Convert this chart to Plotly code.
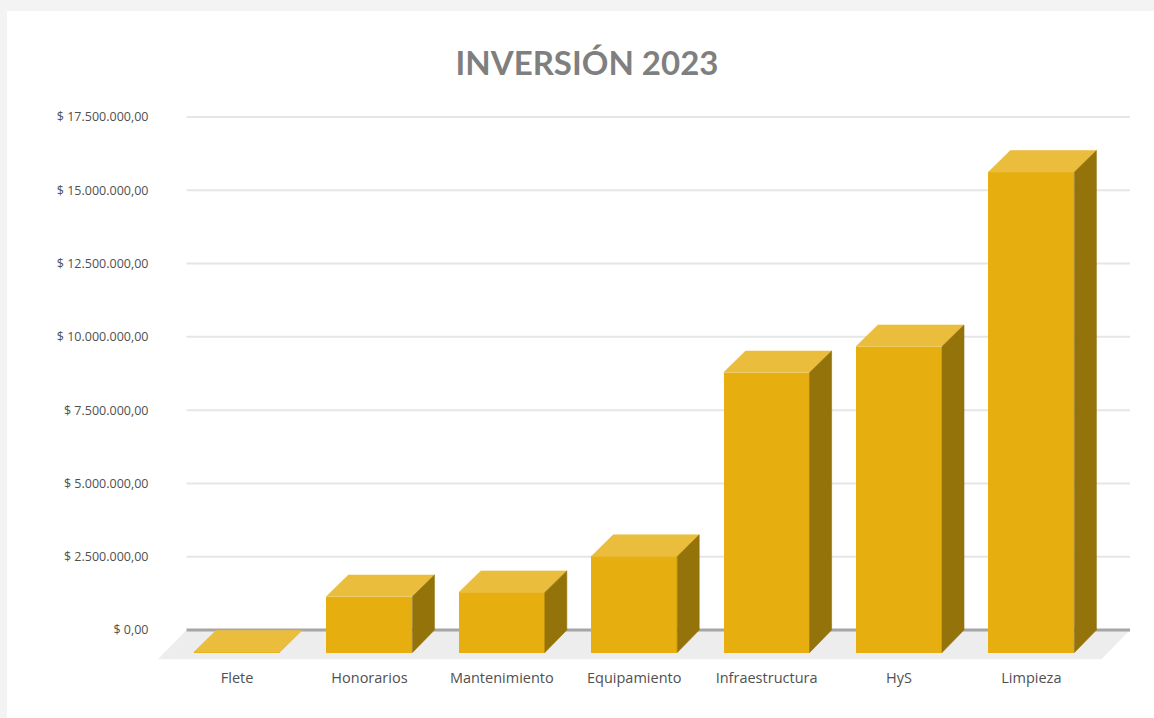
import plotly.graph_objects as go

categories = ["Flete", "Honorarios", "Mantenimiento", "Equipamiento", "Infraestructura", "HyS", "Limpieza"]
values = [20000, 1910000, 2050000, 3280000, 9550000, 10440000, 16390000]
tick_values = [0, 2500000, 5000000, 7500000, 10000000, 12500000, 15000000, 17500000]
tick_labels = ["$ 0,00", "$ 2.500.000,00", "$ 5.000.000,00", "$ 7.500.000,00",
               "$ 10.000.000,00", "$ 12.500.000,00", "$ 15.000.000,00", "$ 17.500.000,00"]
title_text = "INVERSIÓN 2023"

# pseudo-3D geometry, in axis units
BAR_W = 0.65
DEPTH_X = 0.166
DEPTH_Y = 770000
TOP_RISE = 735000
FLOOR_Y = -1000000
X_RANGE = [-0.597, 6.76]
Y_RANGE = [-1023500, 18080000]
FLOOR_SLANT = (FLOOR_Y / -DEPTH_Y) * DEPTH_X

FRONT = "#E6AF0F"
TOP = "#EBBD3C"
SIDE = "#94730A"
INK = "#505050"
FONT = "Open Sans"
TITLE_FONT = "Lato"

xs = list(range(len(categories)))

top_x, top_y, side_x, side_y = [], [], [], []
for x, v in zip(xs, values):
    l, r = x - BAR_W / 2, x + BAR_W / 2
    front_top = v - DEPTH_Y
    back_top = front_top + TOP_RISE
    top_x += [l, r, r + DEPTH_X, l + DEPTH_X, l, None]
    top_y += [front_top, front_top, back_top, back_top, front_top, None]
    if v > 100000:
        side_x += [r, r + DEPTH_X, r + DEPTH_X, r, r, None]
        side_y += [front_top, back_top, 0, -DEPTH_Y, front_top, None]

fig = go.Figure()
fig.add_trace(go.Bar(x=xs, y=values, base=-DEPTH_Y, width=BAR_W,
                     marker=dict(color=FRONT, line=dict(width=0)), name="Inversión"))
fig.add_trace(go.Scatter(x=top_x, y=top_y, mode="lines", fill="toself", fillcolor=TOP,
                         line=dict(width=0.6, color=TOP), hoverinfo="skip"))
fig.add_trace(go.Scatter(x=side_x, y=side_y, mode="lines", fill="toself", fillcolor=SIDE,
                         line=dict(width=0.6, color=SIDE), hoverinfo="skip"))

back_left = X_RANGE[0] + FLOOR_SLANT
back_right = X_RANGE[1] - 0.015
shapes = [dict(type="rect", xref="paper", yref="paper",
               x0=-151 / 974, x1=1.03, y0=-0.2, y1=(660 - 11) / 560,
               fillcolor="white", line_width=0, layer="below"),
          dict(type="path", xref="x", yref="y", layer="below", fillcolor="#EDEDED", line_width=0,
               path=f"M {X_RANGE[0]} {FLOOR_Y} L {back_left} 0 L {back_right} 0 "
                    f"L {back_right - FLOOR_SLANT} {FLOOR_Y} Z")]
for t in tick_values[1:]:
    shapes.append(dict(type="line", xref="x", yref="y", layer="below",
                       x0=back_left, x1=back_right, y0=t, y1=t,
                       line=dict(color="#E6E6E6", width=2)))
shapes.append(dict(type="line", xref="x", yref="y", layer="below",
                   x0=back_left, x1=back_right, y0=0, y1=0,
                   line=dict(color="#A6A6A6", width=3)))

fig.update_layout(
    width=1154, height=718, autosize=False,
    margin=dict(l=158, r=22, t=100, b=58, pad=0),
    paper_bgcolor="#F3F3F3", plot_bgcolor="rgba(0,0,0,0)",
    showlegend=False, bargap=0, shapes=shapes,
    title=dict(text=f"<b>{title_text}</b>", font=dict(family=TITLE_FONT, size=33, color="#7F7F7F"),
               x=587 / 1154, xanchor="center", xref="container",
               y=1 - 63 / 718, yanchor="middle", yref="container"),
    xaxis=dict(range=X_RANGE, tickmode="array", tickvals=xs, ticktext=categories,
               showgrid=False, zeroline=False, showline=False,
               ticks="outside", ticklen=5, tickcolor="rgba(0,0,0,0)",
               tickfont=dict(family=FONT, size=14.5, color=INK)),
    yaxis=dict(range=Y_RANGE, tickmode="array", tickvals=tick_values, ticktext=tick_labels,
               showgrid=False, zeroline=False, showline=False,
               ticks="outside", ticklen=6, tickcolor="rgba(0,0,0,0)",
               tickfont=dict(family=FONT, size=12.5, color=INK)),
)

fig.write_html("out.html", config=dict(displayModeBar=False),
               post_script="document.body.style.margin='0';")
